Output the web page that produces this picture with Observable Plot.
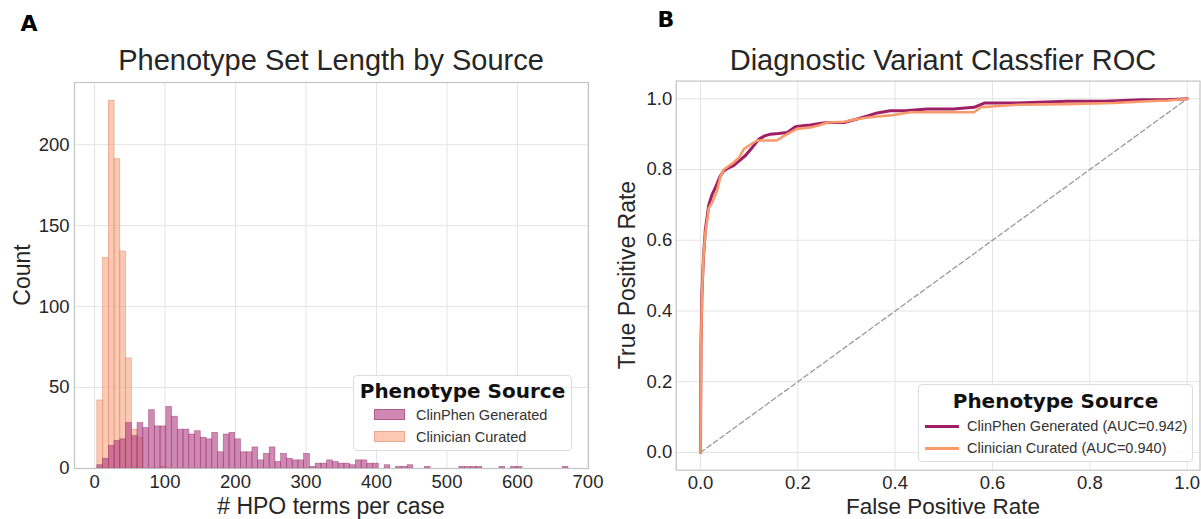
<!DOCTYPE html>
<html>
<head>
<meta charset="utf-8">
<script src="https://cdn.jsdelivr.net/npm/d3@7"></script>
<script src="https://cdn.jsdelivr.net/npm/@observablehq/plot@0.6"></script>
<style>
  html, body { margin: 0; padding: 0; background: #fff; }
  #wrap { position: relative; width: 1201px; height: 519px; overflow: hidden; font-family: "Liberation Sans", Arial, sans-serif; color: #262626; }
  .lbl { position: absolute; white-space: nowrap; transform: translate(-50%, -50%); line-height: 1; }
  .legend { position: absolute; background: rgba(255,255,255,0.85); border: 1px solid #dcdcdc; border-radius: 4px; box-sizing: border-box; }
  .legtitle { position: absolute; left: 0; right: 0; text-align: center; font-family: "DejaVu Sans", sans-serif; font-weight: bold; font-size: 20px; color: #111; transform: translateY(-50%); line-height: 1; }
  .legrow { position: absolute; font-size: 14.5px; color: #333; transform: translateY(-50%); white-space: nowrap; line-height: 1; }
</style>
</head>
<body>
<div id="wrap"></div>
<script>
// ---------- Data: histogram (panel A) ----------
const binStart = 4;
const binWidth = 8.15;
const clinPhenCounts = [2,6,14,17,18,28,20,28,25,36,26,26,38,32,24,24,21,23,19,18,22,10,21,22,18,10,10,13,5,9,13,4,9,6,5,5,9,1,3,3,5,4,3,3,2,5,5,3,3,0,2,0,1,1,2,0,0,1,0,0,0,0,0,1,1,1,1,0,0,0,1,0,1,1,0,0,0,0,0,0,0,1];
const clinicianCounts = [42,130,227,191,134,68,24,19,0,0,0,1];
const histXTicks = [0,100,200,300,400,500,600,700];
const histYTicks = [0,50,100,150,200];
const sources = ["ClinPhen Generated", "Clinician Curated"];

// ---------- Data: ROC (panel B) ----------
const clinFpr = [0,0.001,0.003,0.006,0.010,0.017,0.024,0.031,0.040,0.048,0.058,0.068,0.080,0.092,0.105,0.120,0.132,0.144,0.160,0.178,0.195,0.210,0.226,0.245,0.260,0.295,0.322,0.345,0.363,0.390,0.420,0.466,0.520,0.562,0.583,0.650,0.754,0.830,0.905,0.960,1.0];
const clinTpr = [0,0.30,0.45,0.55,0.63,0.70,0.73,0.75,0.78,0.797,0.805,0.811,0.825,0.839,0.86,0.886,0.895,0.90,0.902,0.905,0.921,0.924,0.926,0.93,0.933,0.933,0.943,0.952,0.96,0.966,0.966,0.971,0.971,0.976,0.988,0.988,0.993,0.993,0.997,0.997,1.0];
const curFpr = [0,0.001,0.003,0.006,0.010,0.017,0.025,0.034,0.041,0.048,0.058,0.068,0.080,0.089,0.100,0.116,0.135,0.157,0.168,0.178,0.198,0.212,0.226,0.245,0.260,0.295,0.322,0.345,0.363,0.390,0.431,0.500,0.562,0.576,0.651,0.750,0.850,0.918,0.960,1.0];
const curTpr = [0,0.28,0.44,0.55,0.62,0.69,0.71,0.74,0.78,0.80,0.81,0.82,0.835,0.858,0.868,0.882,0.882,0.882,0.892,0.90,0.915,0.917,0.919,0.925,0.933,0.935,0.943,0.947,0.95,0.953,0.962,0.962,0.962,0.976,0.983,0.985,0.988,0.993,0.995,1.0];
const diagX = [0, 1];
const diagY = [0, 1];
const rocTicks = [0, 0.2, 0.4, 0.6, 0.8, 1.0];
const aucLabels = ["ClinPhen Generated (AUC=0.942)", "Clinician Curated (AUC=0.940)"];

// ---------- Styles ----------
const purpleHist = "#b03a7e";
const orangeHist = "#f9a57f";
const purpleLine = "#9e1f66";
const orangeLine = "#f99a6a";
const gridColor = "#e4e4e4";
const frameColor = "#c4c4c4";
const textColor = "#262626";

const wrap = document.getElementById("wrap");

function toBins(counts) {
  return counts.map((c, i) => ({x1: binStart + i * binWidth, x2: binStart + (i + 1) * binWidth, count: c})).filter(d => d.count > 0);
}

// ---------- Panel A ----------
const histA = Plot.plot({
  width: 600, height: 519,
  marginLeft: 74, marginRight: 12, marginTop: 82, marginBottom: 51,
  style: {fontFamily: "'Liberation Sans', Arial, sans-serif", fontSize: "18.5px", color: textColor, background: "transparent", overflow: "visible"},
  x: {domain: [-28.4, 700.7]},
  y: {domain: [0, 238.4]},
  marks: [
    Plot.gridX(histXTicks, {stroke: gridColor, strokeOpacity: 1, strokeWidth: 1}),
    Plot.gridY(histYTicks, {stroke: gridColor, strokeOpacity: 1, strokeWidth: 1}),
    Plot.rectY(toBins(clinicianCounts), {x1: "x1", x2: "x2", y: "count", fill: orangeHist, fillOpacity: 0.6, stroke: "#d9876a", strokeOpacity: 0.8, strokeWidth: 0.6}),
    Plot.rectY(toBins(clinPhenCounts), {x1: "x1", x2: "x2", y: "count", fill: purpleHist, fillOpacity: 0.6, stroke: "#94306a", strokeOpacity: 0.7, strokeWidth: 0.6}),
    Plot.axisX(histXTicks, {tickSize: 0, tickPadding: 6, label: null, fontSize: 18.5}),
    Plot.axisY(histYTicks, {tickSize: 0, tickPadding: 5, label: null, fontSize: 18.5}),
    Plot.frame({stroke: frameColor, strokeWidth: 1.2})
  ]
});
histA.style.position = "absolute";
histA.style.left = "0px";
histA.style.top = "0px";
wrap.appendChild(histA);

// ---------- Panel B ----------
const rocClin = clinFpr.map((f, i) => ({fpr: f, tpr: clinTpr[i]}));
const rocCur = curFpr.map((f, i) => ({fpr: f, tpr: curTpr[i]}));
const diag = diagX.map((x, i) => ({fpr: x, tpr: diagY[i]}));

const rocB = Plot.plot({
  width: 601, height: 519,
  marginLeft: 75.7, marginRight: 1.5, marginTop: 80.6, marginBottom: 49.3,
  style: {fontFamily: "'Liberation Sans', Arial, sans-serif", fontSize: "18.5px", color: textColor, background: "transparent", overflow: "visible"},
  x: {domain: [-0.0499, 1.0263]},
  y: {domain: [-0.05, 1.05]},
  marks: [
    Plot.gridX(rocTicks, {stroke: gridColor, strokeOpacity: 1, strokeWidth: 1}),
    Plot.gridY(rocTicks, {stroke: gridColor, strokeOpacity: 1, strokeWidth: 1}),
    Plot.line(diag, {x: "fpr", y: "tpr", stroke: "#9a9a9a", strokeWidth: 1.3, strokeDasharray: "5,3"}),
    Plot.line(rocClin, {x: "fpr", y: "tpr", stroke: purpleLine, strokeWidth: 3}),
    Plot.line(rocCur, {x: "fpr", y: "tpr", stroke: orangeLine, strokeWidth: 2.6}),
    Plot.axisX(rocTicks, {tickSize: 0, tickPadding: 6, label: null, fontSize: 18.5, tickFormat: d3.format(".1f")}),
    Plot.axisY(rocTicks, {tickSize: 0, tickPadding: 4, label: null, fontSize: 18.5, tickFormat: d3.format(".1f")}),
    Plot.frame({stroke: frameColor, strokeWidth: 1.2})
  ]
});
rocB.style.position = "absolute";
rocB.style.left = "600px";
rocB.style.top = "0px";
wrap.appendChild(rocB);

// ---------- Text overlays ----------
function addText(txt, x, y, opts = {}) {
  const d = document.createElement("div");
  d.className = "lbl";
  d.textContent = txt;
  d.style.left = x + "px";
  d.style.top = y + "px";
  d.style.fontSize = (opts.size || 21) + "px";
  if (opts.bold) d.style.fontWeight = "bold";
  if (opts.family) d.style.fontFamily = opts.family;
  if (opts.color) d.style.color = opts.color;
  if (opts.rotate) d.style.transform = "translate(-50%, -50%) rotate(" + opts.rotate + "deg)";
  wrap.appendChild(d);
}
addText("A", 29, 24, {size: 22, bold: true, family: "'DejaVu Sans', sans-serif", color: "#000"});
addText("B", 666, 20, {size: 22, bold: true, family: "'DejaVu Sans', sans-serif", color: "#000"});
addText("Phenotype Set Length by Source", 331, 60, {size: 29});
addText("Diagnostic Variant Classfier ROC", 943, 60, {size: 29});
addText("Count", 22, 275, {size: 23, rotate: -90});
addText("# HPO terms per case", 331, 506, {size: 23});
addText("True Positive Rate", 627, 275, {size: 23, rotate: -90});
addText("False Positive Rate", 943, 507, {size: 22.5});

// ---------- Legends ----------
function legend(left, top, w, h, titleY, rows) {
  const box = document.createElement("div");
  box.className = "legend";
  box.style.left = left + "px";
  box.style.top = top + "px";
  box.style.width = w + "px";
  box.style.height = h + "px";
  const t = document.createElement("div");
  t.className = "legtitle";
  t.textContent = "Phenotype Source";
  t.style.top = (titleY - top) + "px";
  box.appendChild(t);
  rows.forEach(r => {
    const sw = document.createElement("div");
    sw.style.position = "absolute";
    sw.style.left = (r.sx - left) + "px";
    sw.style.top = (r.y - top - r.sh / 2) + "px";
    sw.style.width = r.sw + "px";
    sw.style.height = r.sh + "px";
    sw.style.background = r.color;
    if (r.border) sw.style.boxShadow = "inset 0 0 0 1px " + r.border;
    box.appendChild(sw);
    const tx = document.createElement("div");
    tx.className = "legrow";
    tx.textContent = r.text;
    tx.style.left = (r.tx - left) + "px";
    tx.style.top = (r.y - top) + "px";
    box.appendChild(tx);
  });
  wrap.appendChild(box);
}
legend(353, 375, 219, 76, 390, [
  {text: sources[0], sx: 373, sw: 31, sh: 11, y: 413.5, tx: 415, color: "rgba(176,58,126,0.6)", border: "rgba(148,48,106,0.5)"},
  {text: sources[1], sx: 373, sw: 31, sh: 11, y: 435.5, tx: 415, color: "rgba(249,165,127,0.6)", border: "rgba(217,135,106,0.5)"}
]);
legend(918, 384, 275, 78, 400, [
  {text: aucLabels[0], sx: 924, sw: 34, sh: 3, y: 425, tx: 966, color: purpleLine},
  {text: aucLabels[1], sx: 924, sw: 34, sh: 3, y: 447, tx: 966, color: orangeLine}
]);
</script>
</body>
</html>
